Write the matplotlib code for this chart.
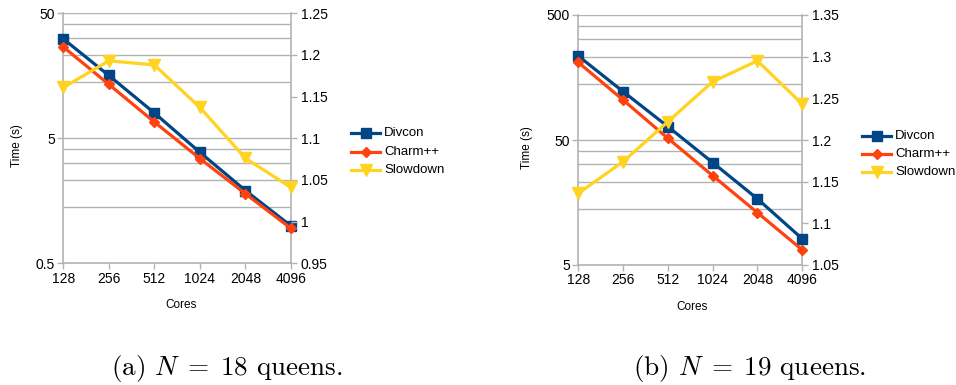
import matplotlib
matplotlib.use("Agg")
import matplotlib.pyplot as plt
from matplotlib.ticker import FixedLocator, NullFormatter, FuncFormatter
from matplotlib.lines import Line2D

plt.rcParams['font.family'] = ['Liberation Sans', 'DejaVu Sans']
plt.rcParams['mathtext.fontset'] = 'cm'

cores = ["128", "256", "512", "1024", "2048", "4096"]

# N = 18 queens
divcon_18 = [31.2, 15.9, 7.97, 3.86, 1.91, 0.995]
charm_18 = [26.9, 13.5, 6.75, 3.44, 1.80, 0.95]
slowdown_18 = [1.161, 1.193, 1.188, 1.137, 1.076, 1.041]

# N = 19 queens
divcon_19 = [235, 122, 64, 33, 16.9, 8.1]
charm_19 = [209, 104.5, 51.6, 25.9, 13.1, 6.6]
slowdown_19 = [1.136, 1.174, 1.222, 1.270, 1.295, 1.243]

BLUE = "#004586"
ORANGE = "#ff420e"
YELLOW = "#ffd320"
GRID = "#b3b3b3"

fig = plt.figure(figsize=(9.56, 3.85), dpi=100)


def panel(rect, divcon, charm, slow, tlim, tmajor, slim, sticks, sfmt,
          ylab_xy, xlab_xy, leg_x, leg_y, caption, cap_x):
    ax = fig.add_axes(rect)
    x = list(range(len(cores)))
    ax.set_yscale('log')
    ax.set_ylim(*tlim)
    ax.set_xlim(0, len(cores) - 1)
    ax.set_xticks(x)
    ax.set_xticklabels(cores)

    # linear subdivisions of each decade as minor grid
    minors = []
    for lo in tmajor[:-1]:
        step = (lo * 10 - lo) / 5
        minors += [lo + step * k for k in range(1, 5)]
    ax.yaxis.set_major_locator(FixedLocator(tmajor))
    ax.yaxis.set_major_formatter(FuncFormatter(lambda v, p: f"{v:g}"))
    ax.yaxis.set_minor_locator(FixedLocator(minors))
    ax.yaxis.set_minor_formatter(NullFormatter())
    ax.grid(True, axis='y', which='both', color=GRID, linewidth=1.0)
    ax.tick_params(axis='y', which='minor', length=0)
    ax.tick_params(axis='both', which='major', length=4, width=1,
                   color=GRID, labelsize=10, pad=2)
    for s in ['left', 'bottom', 'right']:
        ax.spines[s].set_color(GRID)
        ax.spines[s].set_linewidth(1.2)
    ax.spines['top'].set_visible(False)
    ax.set_axisbelow(True)

    l1, = ax.plot(x, divcon, color=BLUE, lw=2.3, marker='s', ms=7.5,
                  clip_on=False, zorder=3)
    l2, = ax.plot(x, charm, color=ORANGE, lw=2.3, marker='D', ms=5,
                  clip_on=False, zorder=4)

    ax2 = ax.twinx()
    ax2.set_ylim(*slim)
    ax2.set_yticks(sticks)
    ax2.yaxis.set_major_formatter(FuncFormatter(lambda v, p: sfmt(v)))
    ax2.tick_params(axis='y', length=4, width=1, color=GRID, labelsize=10, pad=3)
    for s in ax2.spines.values():
        s.set_visible(False)
    l3, = ax2.plot(x, slow, color=YELLOW, lw=2.3, marker='v', ms=8,
                   clip_on=False, zorder=5)

    fig.text(ylab_xy[0] / 956, 1 - ylab_xy[1] / 385, "Time (s)", rotation=90,
             ha='center', va='center', fontsize=8.5)
    fig.text(xlab_xy[0] / 956, 1 - xlab_xy[1] / 385, "Cores",
             ha='center', va='center', fontsize=8.5)

    handles = [l1, l2, l3]
    labels = ["Divcon", "Charm++", "Slowdown"]
    for i, (h, lab) in enumerate(zip(handles, labels)):
        yy = 1 - leg_y[i] / 385
        fig.add_artist(Line2D([leg_x / 956, (leg_x + 29) / 956], [yy, yy],
                              color=h.get_color(), lw=2.3,
                              transform=fig.transFigure))
        fig.add_artist(Line2D([(leg_x + 14.5) / 956], [yy], color=h.get_color(),
                              marker=h.get_marker(), ms=h.get_markersize(),
                              lw=0, transform=fig.transFigure))
        fig.text((leg_x + 33) / 956, yy, lab, ha='left', va='center',
                 fontsize=9.5)

    fig.text(cap_x / 956, 1 - 369 / 385, caption, ha='center', va='center',
             fontsize=19.5, family='cmr10')


panel([63.3 / 956, 1 - 263.3 / 385, 227.7 / 956, 250 / 385],
      divcon_18, charm_18, slowdown_18,
      (0.5, 50), [0.5, 5, 50], (0.95, 1.25),
      [0.95, 1.0, 1.05, 1.1, 1.15, 1.2, 1.25], lambda v: f"{v:g}",
      (16.7, 145.7), (181, 305), 351, [133, 152, 170],
      r"(a) $N\;=\;18$ queens.", 227)

panel([578.3 / 956, 1 - 265 / 385, 224 / 956, 250 / 385],
      divcon_19, charm_19, slowdown_19,
      (5, 500), [5, 50, 500], (1.05, 1.35),
      [1.05, 1.1, 1.15, 1.2, 1.25, 1.3, 1.35], lambda v: f"{v:g}",
      (527, 148), (692, 307), 862, [136, 154, 172],
      r"(b) $N\;=\;19$ queens.", 750)

fig.savefig("out.png", dpi=100)
